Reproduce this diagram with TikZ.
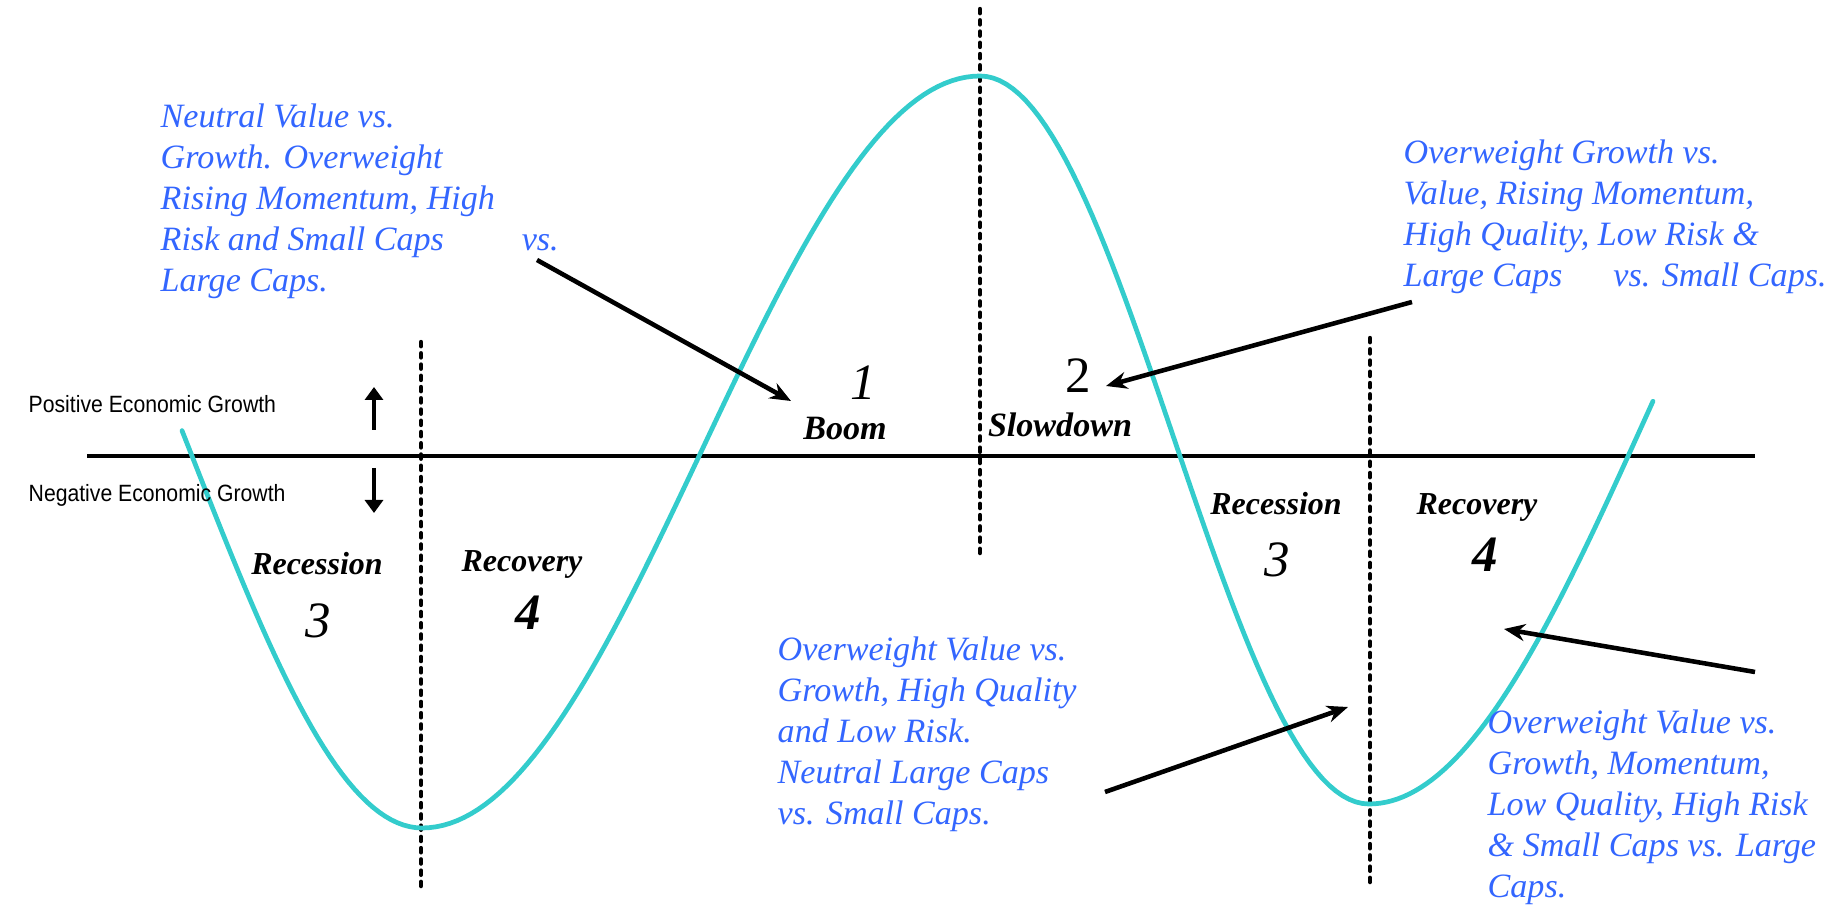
\documentclass[tikz,border=0pt]{standalone}
\usepackage{fontspec}
\setmainfont{Liberation Serif}
\newfontfamily\axisfont[FakeStretch=0.9]{Liberation Sans}
\usepackage{xcolor}
\usetikzlibrary{arrows.meta,positioning,calc}
\definecolor{noteblue}{RGB}{51,102,255}
\definecolor{wave}{RGB}{51,204,204}

\begin{document}
\begin{tikzpicture}[
  note/.style={font=\fontsize{9.7}{11.7}\selectfont\itshape, text=noteblue, align=left, anchor=base west, inner sep=0pt},
  phase/.style={font=\fontsize{9.1}{11}\selectfont\bfseries\itshape, anchor=base, inner sep=0pt},
  num/.style={font=\fontsize{14.5}{16}\selectfont\itshape, anchor=base, inner sep=0pt},
  pointer/.style={line width=1.3pt, -{Stealth[length=0.21cm,width=0.17cm]}},
  divider/.style={line width=1.25pt, line cap=round, dash pattern=on 1.2pt off 2pt},
  axlabel/.style={font=\axisfont\fontsize{6.7}{8}\selectfont, anchor=base west, inner sep=0pt}
]
\useasboundingbox (0,0) rectangle (18.38,9.09);

% zero growth line and phase dividers
\draw[line width=0.95pt] (0.87,4.53) -- (17.55,4.53);
\foreach \x/\ya/\yb in {4.21/5.67/0.21, 9.80/9.00/3.52, 13.70/5.71/0.24}
  \draw[divider] (\x,\ya) -- (\x,\yb);

% the cycle
\draw[wave, line width=1.35pt, line cap=round, line join=round]
  plot[domain=1.82:4.22, samples=40] (\x, {4.53-3.72*cos(180*(\x-4.22)/4.60)})
  -- plot[domain=4.22:9.80, samples=80] (\x, {4.57-3.76*cos(180*(\x-4.22)/5.58)})
  -- plot[domain=9.80:13.69, samples=60] (\x, {4.69+3.64*cos(180*(\x-9.80)/3.89)})
  -- plot[domain=13.69:16.53, samples=50] (\x, {1.05+3.94*(1-cos(180*(\x-13.69)/5.6))});

% growth labels
\node[axlabel] (posgrowth) at (0.28,4.96) {Positive Economic Growth};
\node[axlabel] (neggrowth) at (0.28,4.07) {Negative Economic Growth};
\coordinate (up0) at (3.74,4.79); \coordinate (up1) at (3.74,5.22);
\coordinate (dn0) at (3.74,4.41); \coordinate (dn1) at (3.74,3.96);
\draw[line width=1.3pt, -{Triangle[length=0.13cm,width=0.18cm]}] (up0) -- (up1);
\draw[line width=1.3pt, -{Triangle[length=0.13cm,width=0.18cm]}] (dn0) -- (dn1);

% phases
\node[phase, font=\fontsize{9.7}{11}\selectfont\bfseries\itshape] (boom) at (8.45,4.69) {Boom};
\node[phase, font=\fontsize{9.7}{11}\selectfont\bfseries\itshape] (slowdown) at (10.60,4.72) {Slowdown};
\node[phase] (recessA) at (3.17,3.34) {Recession};
\node[phase] (recovA) at (5.22,3.37) {Recovery};
\node[phase] (recessB) at (12.76,3.94) {Recession};
\node[phase] (recovB) at (14.77,3.94) {Recovery};
\node[num] (one) at (8.63,5.09) {1};
\node[num, font=\fontsize{14.5}{16}\selectfont] (two) at (10.78,5.16) {2};
\node[num] (threeA) at (3.18,2.71) {3};
\node[num, font=\fontsize{14.5}{16}\selectfont\bfseries\itshape] (fourA) at (5.28,2.79) {4};
\node[num] (threeB) at (12.77,3.32) {3};
\node[num, font=\fontsize{14.5}{16}\selectfont\bfseries\itshape] (fourB) at (14.85,3.37) {4};

% style notes (anchored on the last line)
\node[note] (boomnote) at (1.60,6.17) {Neutral Value vs.\\Growth. Overweight\\Rising Momentum, High\\Risk and Small Caps\hspace{0.78cm}vs.\\Large Caps.};
\node[note] (slownote) at (14.03,6.22) {Overweight Growth vs.\\Value, Rising Momentum,\\High Quality, Low Risk \&\\Large Caps\hspace{0.51cm}vs. Small Caps.};
\node[note] (recessnote) at (7.77,0.84) {Overweight Value vs.\\Growth, High Quality\\and Low Risk.\\Neutral Large Caps\\vs. Small Caps.};
\node[note] (recovnote) at (14.87,0.11) {Overweight Value vs.\\Growth, Momentum,\\Low Quality, High Risk\\\& Small Caps vs. Large\\Caps.};

% pointers
\coordinate (p1s) at (5.37,6.49); \coordinate (p1e) at (7.91,5.08);
\coordinate (p2s) at (14.12,6.07); \coordinate (p2e) at (11.06,5.23);
\coordinate (p3s) at (11.05,1.17); \coordinate (p3e) at (13.48,2.02);
\coordinate (p4s) at (17.55,2.37); \coordinate (p4e) at (15.04,2.80);
\foreach \a/\b in {p1s/p1e, p2s/p2e, p3s/p3e, p4s/p4e}
  \draw[pointer] (\a) -- (\b);
\end{tikzpicture}
\end{document}
